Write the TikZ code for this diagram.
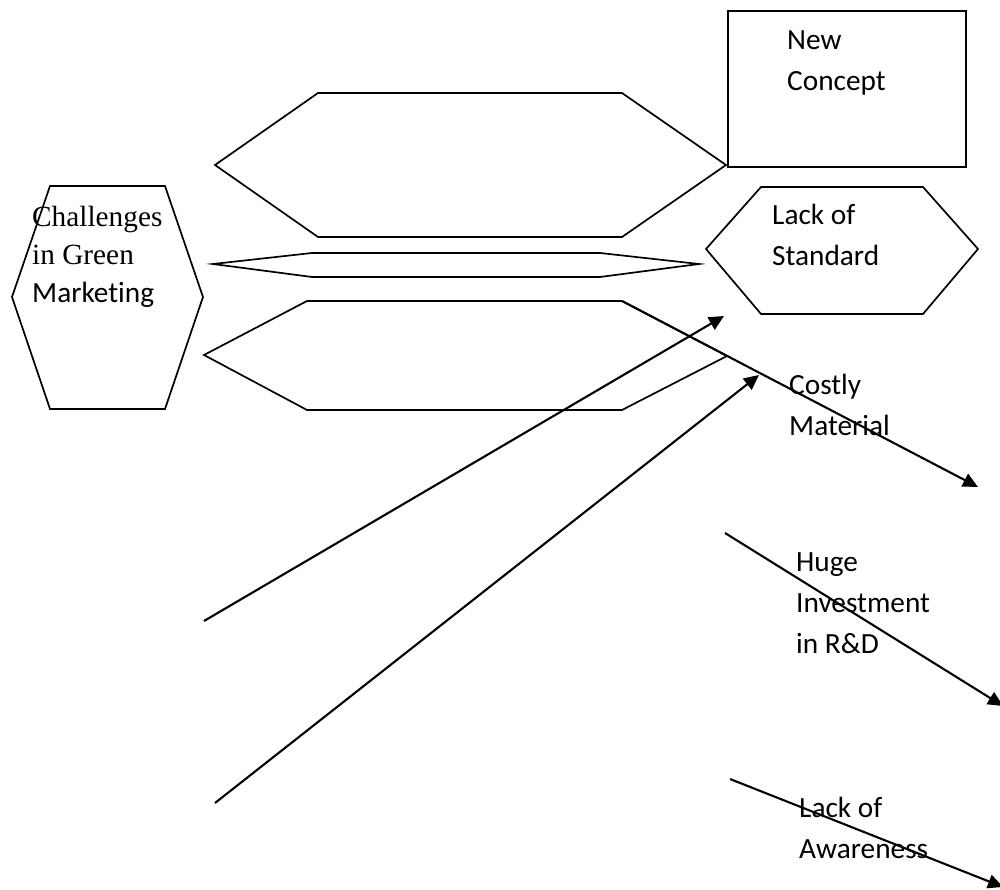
\documentclass[tikz,border=0pt]{standalone}
\usepackage{fontspec}
\setmainfont{Carlito}[Ligatures=NoCommon]
\newfontfamily\tnr{Liberation Serif}
\usetikzlibrary{arrows.meta}
\begin{document}
\begin{tikzpicture}[x=1pt,y=-1pt,
  shp/.style={draw=black,line width=1.7pt,line join=miter},
  arr/.style={draw=black,line width=2.1pt,-{Triangle[length=15pt,width=14pt]}},
  lbl/.style={font=\fontsize{29.3}{41}\selectfont,align=left,inner sep=0pt,anchor=base west}]
\useasboundingbox[fill=white] (0,0) rectangle (1000,890);
% shapes
\draw[shp] (50,186) -- (165,186) -- (203,297) -- (165,409) -- (50,409) -- (12,297) -- cycle;
\draw[shp] (215,165) -- (318,93) -- (622,93) -- (726,165) -- (622,237) -- (318,237) -- cycle;
\draw[shp] (213,264) -- (312,253) -- (600,253) -- (699,264) -- (600,277) -- (312,277) -- cycle;
\draw[shp] (204,355) -- (307,301) -- (622,301) -- (727,356) -- (622,410) -- (307,410) -- cycle;
\draw[shp] (728,11) rectangle (966,167);
\draw[shp] (706,249) -- (761,187) -- (923,187) -- (978,249) -- (923,314) -- (761,314) -- cycle;
% labels (anchored at the baseline of the last line)
\node[lbl,font=\fontsize{29.3}{38}\selectfont] (chal) at (32,302) {{\tnr Challenges}\\{\tnr in Green}\\Marketing};
\node[lbl] (newc) at (787,91) {New\\Concept};
\node[lbl] (lstd) at (772,266) {Lack of\\Standard};
\node[lbl] (cost) at (789,435) {Costly\\Material};
\node[lbl] (huge) at (796,653) {Huge\\Investment\\in R\&D};
\node[lbl] (lawa) at (799,858) {Lack of\\Awareness};
% arrow end points
\coordinate (a1s) at (204,621);
\coordinate (a1e) at (724,316);
\coordinate (a2s) at (215,803);
\coordinate (a2e) at (759,375);
\coordinate (a3s) at (622,301);
\coordinate (a3e) at (978,487);
\coordinate (a4s) at (725,533);
\coordinate (a4e) at (1003,706);
\coordinate (a5s) at (730,779);
\coordinate (a5e) at (1003,887);
\draw[arr] (a1s) -- (a1e);
\draw[arr] (a2s) -- (a2e);
\draw[arr] (a3s) -- (a3e);
\draw[arr] (a4s) -- (a4e);
\draw[arr] (a5s) -- (a5e);
\end{tikzpicture}
\end{document}
